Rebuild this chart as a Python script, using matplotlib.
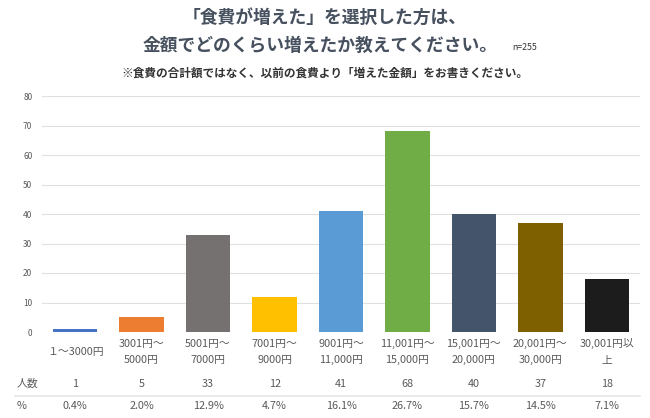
import matplotlib
matplotlib.use("Agg")
import matplotlib.pyplot as plt
import matplotlib.transforms as mtransforms

plt.rcParams['font.family'] = ['Noto Sans CJK JP', 'DejaVu Sans']

# data
categories = ['１～3000円', '3001円～\n5000円', '5001円～\n7000円', '7001円～\n9000円',
              '9001円～\n11,000円', '11,001円～\n15,000円', '15,001円～\n20,000円',
              '20,001円～\n30,000円', '30,001円以\n上']
counts = [1, 5, 33, 12, 41, 68, 40, 37, 18]
percents = ['0.4%', '2.0%', '12.9%', '4.7%', '16.1%', '26.7%', '15.7%', '14.5%', '7.1%']
colors = ['#4472C4', '#ED7D31', '#767171', '#FFC000', '#5B9BD5',
          '#70AD47', '#44546A', '#7F6000', '#1C1C1C']

W, H = 650, 418
fig = plt.figure(figsize=(W / 100, H / 100), dpi=100)
fig.patch.set_facecolor('white')

ax = fig.add_axes([42 / W, (H - 332) / H, 598 / W, 236 / H])
x = list(range(len(counts)))
ax.bar(x, counts, width=0.67, color=colors, zorder=3)
ax.set_xlim(-0.5, len(counts) - 0.5)
ax.set_ylim(0, 80)
ax.set_yticks(range(0, 81, 10))
ax.tick_params(axis='y', length=0, labelsize=6, labelcolor='#595959', pad=7)
ax.set_xticks([])
ax.grid(axis='y', color='#E0E0E0', linewidth=0.8, zorder=0)
for s in ax.spines.values():
    s.set_visible(False)

tr = mtransforms.blended_transform_factory(ax.transData, fig.transFigure)
txt = '#595959'

# category labels
for i, lab in enumerate(categories):
    ax.text(i, (H - 352) / H, lab, transform=tr, ha='center', va='center',
            fontsize=7.8, color=txt, linespacing=1.85)

# table rows
fig.text(17 / W, (H - 384) / H, '人数', ha='left', va='center', fontsize=7.8, color=txt)
fig.text(17 / W, (H - 406) / H, '%', ha='left', va='center', fontsize=7.8, color=txt)
for i in x:
    ax.text(i, (H - 384) / H, str(counts[i]), transform=tr, ha='center', va='center',
            fontsize=7.8, color=txt)
    ax.text(i, (H - 406) / H, percents[i], transform=tr, ha='center', va='center',
            fontsize=7.8, color=txt)
fig.add_artist(plt.Line2D([15 / W, 640 / W], [(H - 396) / H] * 2,
                          color='#E6E6E6', linewidth=1.2))

# titles
tcol = '#46505E'
fig.text(325 / W, (H - 18) / H, '「食費が増えた」を選択した方は、', ha='center', va='center',
         fontsize=12.8, fontweight='bold', color=tcol)
fig.text(320 / W, (H - 46) / H, '金額でどのくらい増えたか教えてください。', ha='center', va='center',
         fontsize=12.8, fontweight='bold', color=tcol)
fig.text(512 / W, (H - 47) / H, 'n=255', ha='left', va='center', fontsize=6.3, color='#333333')
fig.text(325 / W, (H - 73) / H, '※食費の合計額ではなく、以前の食費より「増えた金額」をお書きください。',
         ha='center', va='center', fontsize=8.4, fontweight='bold', color='#333333')

fig.savefig('out.png', dpi=100)
